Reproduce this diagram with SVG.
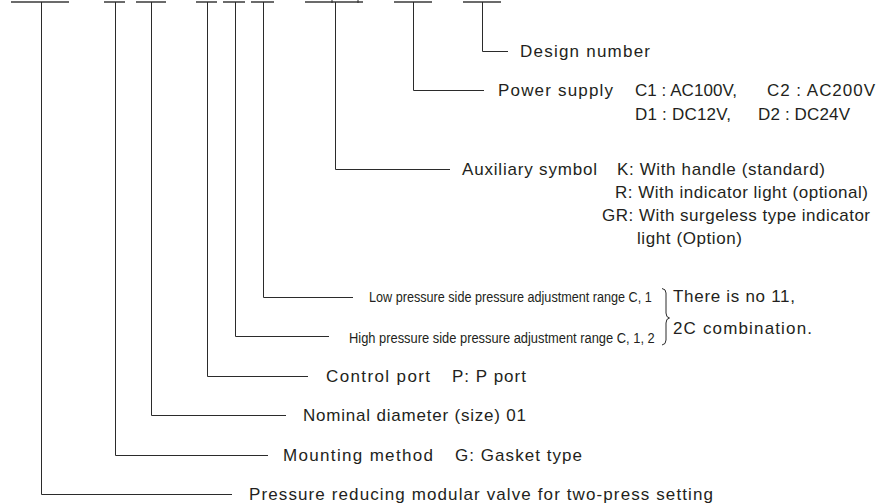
<svg xmlns="http://www.w3.org/2000/svg" width="877" height="503" viewBox="0 0 877 503">
<style>
.bar{stroke:#6b6b6b;stroke-width:2;fill:none}
.ln{stroke:#2b2b2b;stroke-width:1;fill:none}
.t{font-family:"Liberation Sans",Arial,Helvetica,sans-serif;font-size:17px;fill:#231f20}
.s{font-family:"Liberation Sans",Arial,Helvetica,sans-serif;font-size:15.5px;fill:#231f20}
</style>
<rect width="877" height="503" fill="#ffffff"/>
<g id="connectors">
<path class="bar" d="M11 2H69M104 2H125M136 2H166M196 2H217M223 2H245M251 2H274M305 2H363M394 2H432M463 2H501"/>
<path class="ln" d="M332 0V3M358 0V3"/>
<path class="ln" d="M41.5 2V494.5H232"/>
<path class="ln" d="M115.5 2V455.5H268"/>
<path class="ln" d="M151.5 2V415.5H286"/>
<path class="ln" d="M207.5 2V376.5H308"/>
<path class="ln" d="M235.5 2V336.5H329"/>
<path class="ln" d="M263.5 2V297.5H353"/>
<path class="ln" d="M335.5 2V169.5H450"/>
<path class="ln" d="M413.5 2V90.5H484"/>
<path class="ln" d="M482.5 2V51.5H508"/>
<path class="ln" d="M662 288.5Q666 289 666 293V313Q666 317.5 669.5 318Q666 318.5 666 323V340Q666 344.5 662 345"/>
</g>
<g id="design">
<text class="t" x="520" y="57" textLength="130" lengthAdjust="spacing">Design number</text>
</g>
<g id="power">
<text class="t" x="498" y="95.5" textLength="115" lengthAdjust="spacing">Power supply</text>
<text class="t" x="635" y="95.5" textLength="102" lengthAdjust="spacing">C1 : AC100V,</text>
<text class="t" x="767" y="95.5" textLength="108" lengthAdjust="spacing">C2 : AC200V</text>
<text class="t" x="635" y="119.5" textLength="96" lengthAdjust="spacing">D1 : DC12V,</text>
<text class="t" x="758" y="119.5" textLength="92" lengthAdjust="spacing">D2 : DC24V</text>
</g>
<g id="auxiliary">
<text class="t" x="462" y="174.5" textLength="135" lengthAdjust="spacing">Auxiliary symbol</text>
<text class="t" x="617" y="174.5" textLength="208" lengthAdjust="spacing">K: With handle (standard)</text>
<text class="t" x="615" y="197.5" textLength="253" lengthAdjust="spacing">R: With indicator light (optional)</text>
<text class="t" x="602" y="220.5" textLength="268" lengthAdjust="spacing">GR: With surgeless type indicator</text>
<text class="t" x="637" y="243.5" textLength="105" lengthAdjust="spacing">light (Option)</text>
</g>
<g id="low">
<text class="s" transform="translate(369,301.5) scale(0.815,1)" x="0" y="0">Low pressure side pressure adjustment range C, 1</text>
</g>
<g id="high">
<text class="s" transform="translate(349,343) scale(0.831,1)" x="0" y="0">High pressure side pressure adjustment range C, 1, 2</text>
</g>
<g id="note">
<text class="t" x="673" y="301.5" textLength="122" lengthAdjust="spacing">There is no 11,</text>
<text class="t" x="673" y="333.5" textLength="139" lengthAdjust="spacing">2C combination.</text>
</g>
<g id="control">
<text class="t" x="326" y="381.5" textLength="104" lengthAdjust="spacing">Control port</text>
<text class="t" x="452" y="381.5" textLength="74" lengthAdjust="spacing">P: P port</text>
</g>
<g id="nominal">
<text class="t" x="303" y="421" textLength="223" lengthAdjust="spacing">Nominal diameter (size) 01</text>
</g>
<g id="mounting">
<text class="t" x="283" y="460.5" textLength="150" lengthAdjust="spacing">Mounting method</text>
<text class="t" x="455" y="460.5" textLength="127" lengthAdjust="spacing">G: Gasket type</text>
</g>
<g id="valve">
<text class="t" x="249" y="499.5" textLength="464" lengthAdjust="spacing">Pressure reducing modular valve for two-press setting</text>
</g>
</svg>
